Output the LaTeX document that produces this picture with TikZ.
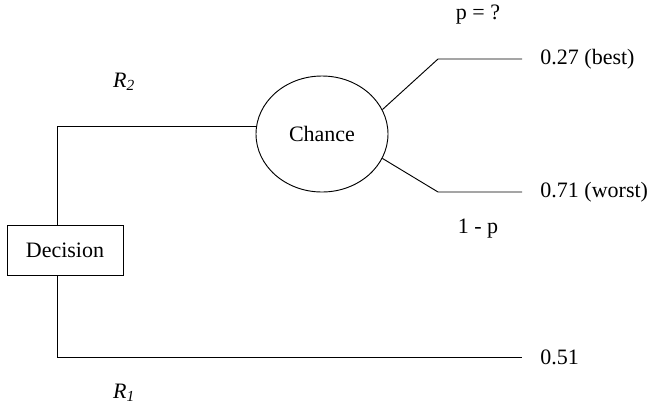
\documentclass[tikz,border=0pt]{standalone}
\usepackage{fontspec}
\setmainfont{Liberation Serif}
\usetikzlibrary{shapes.geometric}
\tikzset{
	box/.style={draw,rectangle,minimum width=87pt,minimum height=37.5pt,inner sep=0pt},
	blob/.style={draw,ellipse,minimum width=99pt,minimum height=87pt,inner sep=0pt},
	lab/.style={inner sep=0pt}
}

\begin{document}
\begin{tikzpicture}[x=0.75pt,y=-0.75pt,line width=0.7pt,font=\fontsize{16.5}{19}\selectfont]
		\useasboundingbox (0,0) rectangle (649,408);
		\node[box] (dec) at (65,250) {Decision};
		\node[blob] (chance) at (322,134) {Chance};
		\coordinate (up) at (57,126);
		\coordinate (down) at (57,357);
		\coordinate (r1end) at (522,357);
		\coordinate (bestknee) at (438,59);
		\coordinate (bestend) at (522,59);
		\coordinate (worstknee) at (438,192);
		\coordinate (worstend) at (522,192);
		\draw (dec.north -| up)--(up)--(up -| chance.west);
		\draw (dec.south -| down)--(down)--(r1end);
		\draw (chance.22)--(bestknee)--(bestend);
		\draw (chance.-22)--(worstknee)--(worstend);
		\node[lab,anchor=west] (best) at (540,59) {0.27 (best)};
		\node[lab,anchor=west] (worst) at (540,192) {0.71 (worst)};
		\node[lab,anchor=west] (sure) at (540,357) {0.51};
		\node[lab] (p) at (478,15) {p = ?};
		\node[lab] (q) at (478,229) {1 - p};
		\node[lab] (r2) at (124,82) {\textit{R\textsubscript{2}}};
		\node[lab] (r1) at (124,393) {\textit{R\textsubscript{1}}};
	\end{tikzpicture}
\end{document}
